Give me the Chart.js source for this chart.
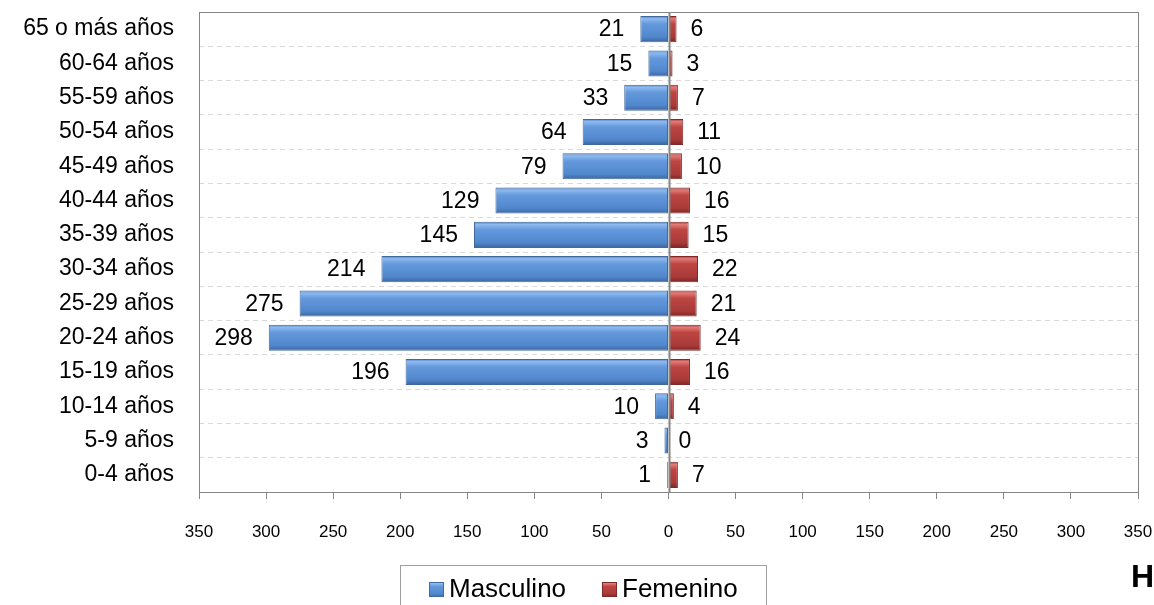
<!DOCTYPE html>
<html lang="es">
<head>
  <meta charset="UTF-8" />
  <title>Pirámide por edad</title>
  <script src="https://cdn.jsdelivr.net/npm/chart.js"></script>
  <style>
    body {
      margin: 0;
      background-color: #fff;
    }
    #wrap {
      width: 1154px;
      height: 605px;
    }
  </style>
</head>
<body>
  <div id="wrap">
    <canvas id="graph" width="1154" height="605"></canvas>
  </div>

  <script>
    const ageGroups = ['65 o más años', '60-64 años', '55-59 años', '50-54 años', '45-49 años',
      '40-44 años', '35-39 años', '30-34 años', '25-29 años', '20-24 años', '15-19 años',
      '10-14 años', '5-9 años', '0-4 años'];
    const masculino = [21, 15, 33, 64, 79, 129, 145, 214, 275, 298, 196, 10, 3, 1];
    const femenino = [6, 3, 7, 11, 10, 16, 15, 22, 21, 24, 16, 4, 0, 7];
    const seriesNames = ['Masculino', 'Femenino'];
    const axisMin = -350;
    const axisMax = 350;
    const axisStep = 50;
    const cornerText = 'H';

    const FONT = '"Liberation Sans", Arial, sans-serif';
    const BAR_PCT = 0.76;

    // vertical gradient per bar, like the bevelled office bars
    function barFill(stops, solid) {
      return (ctx) => {
        const chart = ctx.chart;
        const area = chart.chartArea;
        if (!area || !chart.scales.y) return solid;
        const y = chart.scales.y.getPixelForValue(ctx.dataIndex);
        const half = (area.bottom - area.top) / ageGroups.length * BAR_PCT / 2;
        const g = chart.ctx.createLinearGradient(0, y - half, 0, y + half);
        stops.forEach(s => g.addColorStop(s[0], s[1]));
        return g;
      };
    }

    const blueStops = [[0, '#4d7dbd'], [0.1, '#8fbaf0'], [0.3, '#6499dc'], [0.8, '#5087cc'], [1, '#3c659c']];
    const redStops = [[0, '#a13a38'], [0.1, '#e27b78'], [0.3, '#bd4643'], [0.8, '#a83a38'], [1, '#7a2624']];

    const valueLabels = {
      id: 'valueLabels',
      afterDatasetsDraw(chart) {
        const c = chart.ctx;
        c.save();
        c.font = '23px ' + FONT;
        c.fillStyle = '#000';
        c.textBaseline = 'middle';
        chart.data.datasets.forEach((ds, di) => {
          const meta = chart.getDatasetMeta(di);
          meta.data.forEach((bar, i) => {
            const v = Math.abs(ds.data[i]);
            if (di === 0) {
              c.textAlign = 'right';
              c.fillText(v, bar.x - 16, bar.y + 1);
            } else {
              c.textAlign = 'left';
              c.fillText(v, bar.x + 14, bar.y + 1);
            }
          });
        });
        c.restore();
      }
    };

    const frame = {
      id: 'frame',
      afterDatasetsDraw(chart) {
        const c = chart.ctx;
        const a = chart.chartArea;
        const x0 = Math.round(chart.scales.x.getPixelForValue(0)) + 0.5;
        c.save();
        c.strokeStyle = '#868686';
        c.lineWidth = 1;
        c.strokeRect(Math.round(a.left) + 0.5, Math.round(a.top) + 0.5,
          Math.round(a.right - a.left), Math.round(a.bottom - a.top));
        c.lineWidth = 2;
        c.beginPath();
        c.moveTo(x0, a.top);
        c.lineTo(x0, a.bottom);
        c.stroke();
        c.restore();
      },
      afterDraw(chart) {
        const c = chart.ctx;
        c.save();
        // legend box, cut off by the bottom edge
        c.strokeStyle = '#a0a0a0';
        c.lineWidth = 1;
        c.strokeRect(400.5, 565.5, 366, 60);
        const items = [
          { text: seriesNames[0], x: 429, stops: blueStops, border: '#3f6aa3' },
          { text: seriesNames[1], x: 602, stops: redStops, border: '#7f2a28' }
        ];
        c.font = '26px ' + FONT;
        c.textBaseline = 'middle';
        c.textAlign = 'left';
        items.forEach(it => {
          const g = c.createLinearGradient(0, 582, 0, 597);
          it.stops.forEach(s => g.addColorStop(s[0], s[1]));
          c.fillStyle = g;
          c.fillRect(it.x, 582, 15, 15);
          c.strokeStyle = it.border;
          c.strokeRect(it.x + 0.5, 582.5, 14, 14);
          c.fillStyle = '#000';
          c.fillText(it.text, it.x + 20, 590);
        });
        c.font = 'bold 32px ' + FONT;
        c.textBaseline = 'alphabetic';
        c.fillText(cornerText, 1131, 587);
        c.restore();
      }
    };

    const ctx = document.getElementById('graph').getContext('2d');
    const chart = new Chart(ctx, {
      type: 'bar',
      data: {
        labels: ageGroups,
        datasets: [
          {
            label: seriesNames[0],
            data: masculino.map(v => -v),
            backgroundColor: barFill(blueStops, '#5b8fd0'),
            borderColor: '#42699c',
            borderWidth: 1,
            borderSkipped: false,
            barPercentage: BAR_PCT,
            categoryPercentage: 1
          },
          {
            label: seriesNames[1],
            data: femenino,
            backgroundColor: barFill(redStops, '#b3423f'),
            borderColor: '#7f2a28',
            borderWidth: 1,
            borderSkipped: false,
            barPercentage: BAR_PCT,
            categoryPercentage: 1
          }
        ]
      },
      options: {
        indexAxis: 'y',
        responsive: false,
        animation: false,
        layout: { padding: { left: 0, top: 12, right: 16, bottom: 0 } },
        plugins: {
          legend: { display: false },
          tooltip: { enabled: false }
        },
        scales: {
          x: {
            stacked: true,
            min: axisMin,
            max: axisMax,
            afterFit: (s) => {
              s.height = 113;
              s.paddingLeft = 0;
              s.paddingRight = 0;
            },
            ticks: {
              stepSize: axisStep,
              color: '#000',
              padding: 23,
              maxRotation: 0,
              font: { family: FONT, size: 17 },
              callback: (v) => Math.abs(v)
            },
            grid: {
              drawOnChartArea: false,
              drawTicks: true,
              tickLength: 7,
              color: '#868686'
            },
            border: { display: false }
          },
          y: {
            stacked: true,
            afterFit: (s) => {
              s.width = 199;
              s.paddingTop = 0;
              s.paddingBottom = 0;
            },
            ticks: {
              color: '#000',
              padding: 25,
              font: { family: FONT, size: 23 }
            },
            grid: {
              offset: true,
              drawTicks: false,
              color: '#d9d9d9'
            },
            border: { display: false, dash: [5, 4] }
          }
        }
      },
      plugins: [valueLabels, frame]
    });
  </script>
</body>
</html>
